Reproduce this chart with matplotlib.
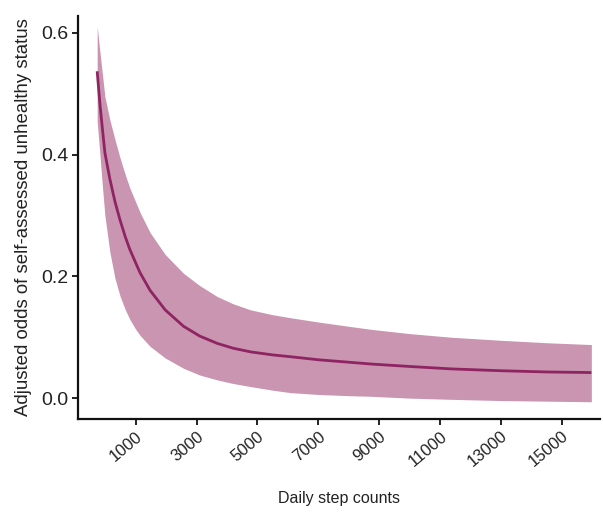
import numpy as np
import matplotlib.pyplot as plt

plt.rcParams['font.family'] = ['Liberation Sans', 'DejaVu Sans']

# fitted odds curve with its 95% band, read at selected step counts
steps = [-267, -180, -90, -13, 150, 317, 482, 650, 800, 1000, 1142, 1472,
         1967, 2571, 3100, 3673, 4200, 4772, 5500, 6092, 7000, 8000, 8733,
         10000, 11373, 13000, 14500, 15970]
odds = [0.537, 0.485, 0.440, 0.403, 0.360, 0.323, 0.293, 0.266, 0.245, 0.222,
        0.206, 0.177, 0.145, 0.118, 0.102, 0.090, 0.082, 0.076, 0.071, 0.068,
        0.063, 0.059, 0.056, 0.052, 0.048, 0.045, 0.043, 0.042]
upper = [0.611, 0.570, 0.530, 0.495, 0.457, 0.425, 0.395, 0.368, 0.346, 0.322,
         0.305, 0.272, 0.236, 0.205, 0.185, 0.167, 0.155, 0.145, 0.137, 0.132,
         0.125, 0.118, 0.113, 0.106, 0.100, 0.095, 0.091, 0.088]
lower = [0.455, 0.402, 0.345, 0.300, 0.240, 0.197, 0.168, 0.146, 0.130, 0.113,
         0.103, 0.085, 0.066, 0.049, 0.038, 0.030, 0.024, 0.019, 0.013, 0.009,
         0.006, 0.004, 0.003, 0.000, -0.002, -0.004, -0.005, -0.006]

xticks = [1000, 3000, 5000, 7000, 9000, 11000, 13000, 15000]
yticks = [0.0, 0.2, 0.4, 0.6]

fig = plt.figure(figsize=(6.03, 5.12), dpi=100)
ax = fig.add_axes([0.129, 0.182, 0.866, 0.787])

ax.fill_between(steps, lower, upper, color='#C995B1', linewidth=0)
ax.plot(steps, odds, color='#8E2461', linewidth=2.0, solid_capstyle='butt',
        solid_joinstyle='round')

ax.set_xlim(-904, 16254)
ax.set_ylim(-0.034, 0.628)
ax.set_xticks(xticks)
ax.set_xticklabels([str(t) for t in xticks], rotation=40, ha='right',
                   rotation_mode='anchor', fontsize=12, color='#222222')
ax.set_yticks(yticks)
ax.set_yticklabels([f'{t:.1f}' for t in yticks], fontsize=14, color='#222222')

for side in ['top', 'right']:
    ax.spines[side].set_visible(False)
for side in ['left', 'bottom']:
    ax.spines[side].set_linewidth(1.6)
    ax.spines[side].set_color('#111111')
ax.tick_params(axis='both', length=4, width=1.4, color='#222222', pad=3)

ax.set_xlabel('Daily step counts', fontsize=11.5, color='#222222', labelpad=15)
ax.set_ylabel('Adjusted odds of self-assessed unhealthy status', fontsize=13.4,
              color='#222222', labelpad=6)

fig.savefig('out.png', dpi=100)
